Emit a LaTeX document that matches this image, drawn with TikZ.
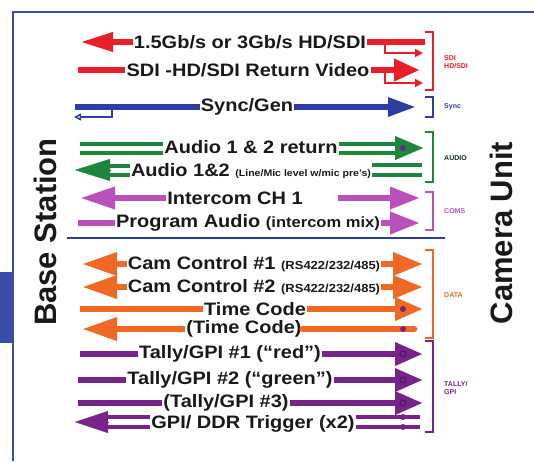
\documentclass[tikz,border=0pt]{standalone}
\usepackage{fontspec}
\setmainfont{Liberation Sans}
\newfontfamily\widefont{Liberation Sans}[FakeStretch=1.11]
\usetikzlibrary{arrows.meta}
\definecolor{sdired}{RGB}{232,30,40}
\definecolor{syncblue}{RGB}{45,62,160}
\definecolor{audiogreen}{RGB}{28,135,60}
\definecolor{comspink}{RGB}{186,80,186}
\definecolor{dataorange}{RGB}{240,104,38}
\definecolor{tallypurple}{RGB}{118,36,138}
\definecolor{frameblue}{RGB}{58,78,168}
\definecolor{ink}{RGB}{25,25,25}
\newcommand\sublbl[2][11.7]{{\fontsize{#1}{#1}\selectfont #2}}

\begin{document}
\begin{tikzpicture}[x=1pt,y=-1pt,
    lbl/.style={text=ink,inner sep=1pt,font=\widefont\bfseries\fontsize{18}{18}\selectfont},
    side/.style={text=ink,rotate=90,font=\bfseries\fontsize{31}{31}\selectfont},
    grp/.style={anchor=west,align=left,inner sep=0pt,font=\bfseries\fontsize{7}{8.5}\selectfont},
    bar/.style={line width=6.5pt},
    twin/.style={line width=4pt,double=white,double distance=#1},
    twin/.default=5pt,
    thin/.style={line width=1.8pt},
    brk/.style={line width=1.8pt}]
\useasboundingbox (0,0) rectangle (534,461);
% frame
\fill[frameblue] (0,272) rectangle (12,343);
\draw[frameblue,line width=2.5pt] (13,461) -- (13,12) -- (534,12);
\node[side] (base) at (45,232) {Base Station};
\node[side] (cam) at (501,233) {Camera Unit};

% SDI
\node[lbl] (r1) at (250,42) {1.5Gb/s or 3Gb/s HD/SDI};
\coordinate (r1l) at (80,42);
\coordinate (r1r) at (425,42);
\coordinate (r1k) at (385,42);
\coordinate (r1t) at (423,53);
\draw[sdired,thin,-{Triangle[length=8pt,width=8pt]}] (r1k) |- (r1t);
\draw[sdired,bar,{Triangle[length=33pt,width=18pt]}-] (r1l) -- (r1.west);
\draw[sdired,bar] (r1.east) -- (r1r);
\node[lbl] (r2) at (248,70) {SDI -HD/SDI Return Video};
\coordinate (r2l) at (78,70);
\coordinate (r2r) at (420,70);
\coordinate (r2k) at (385,70);
\coordinate (r2t) at (423,83);
\draw[sdired,thin,-{Triangle[length=8pt,width=8pt]}] (r2k) |- (r2t);
\draw[sdired,bar] (r2l) -- (r2.west);
\draw[sdired,bar,-{Triangle[length=26pt,width=21pt]}] (r2.east) -- (r2r);

% Sync
\node[lbl] (r3) at (247,107) {Sync/Gen};
\coordinate (r3l) at (75,107);
\coordinate (r3r) at (416,107);
\coordinate (r3k) at (112,107);
\coordinate (r3t) at (74,117);
\draw[syncblue,line width=6pt] (r3l) -- (r3.west);
\draw[syncblue,line width=6pt,-{Triangle[length=28pt,width=18pt]}] (r3.east) -- (r3r);
\draw[syncblue,line width=1.5pt,-{Triangle[open,length=7pt,width=7pt]}] (r3k) |- (r3t);

% Audio
\node[lbl] (r4) at (251,147) {Audio 1 \& 2 return};
\coordinate (r4l) at (80,148);
\coordinate (r4m) at (400,148);
\coordinate (r4h) at (395,148);
\coordinate (r4r) at (423,148);
\draw[audiogreen,twin] (r4l) -- (r4.west |- r4l);
\draw[audiogreen,twin] (r4.east |- r4m) -- (r4m);
\draw[audiogreen,line width=0.1pt,-{Triangle[length=28pt,width=24pt]}] (r4h) -- (r4r);
\fill[tallypurple] (403,148) circle (3pt);
\node[lbl] (r5) at (251,171) {Audio 1\&2 \sublbl[9.5]{(Line/Mic level w/mic pre’s)}};
\coordinate (r5l) at (75,170);
\coordinate (r5k) at (110,170);
\coordinate (r5r) at (422,170);
\draw[audiogreen,twin] (r5k) -- (r5.west |- r5k);
\draw[audiogreen,line width=0.1pt,{Triangle[length=35pt,width=22pt]}-] (r5l) -- (r5k);
\draw[audiogreen,twin=6pt] (r5.east |- r5r) -- (r5r);

% Coms
\node[lbl] (r6) at (235,198) {Intercom CH 1};
\coordinate (r6l) at (80,198);
\coordinate (r6a) at (338,198);
\coordinate (r6r) at (420,198);
\draw[comspink,bar,{Triangle[length=35pt,width=21pt]}-] (r6l) -- (r6.west);
\draw[comspink,bar,-{Triangle[length=30pt,width=21pt]}] (r6a) -- (r6r);
\node[lbl] (r7) at (248,223) {Program Audio \sublbl[14.9]{(intercom mix)}};
\coordinate (r7l) at (78,223);
\coordinate (r7r) at (420,223);
\draw[comspink,bar] (r7l) -- (r7.west);
\draw[comspink,bar,-{Triangle[length=30pt,width=21pt]}] (r7.east) -- (r7r);
\coordinate (divl) at (67,238);
\coordinate (divr) at (445,238);
\draw[syncblue,line width=1.5pt] (divl) -- (divr);

% Data
\node[lbl] (r8) at (254,264) {Cam Control \#1 \sublbl{(RS422/232/485)}};
\coordinate (r8l) at (82,264);
\coordinate (r8r) at (423,264);
\draw[dataorange,bar,{Triangle[length=35pt,width=22pt]}-] (r8l) -- (r8.west);
\draw[dataorange,bar,-{Triangle[length=30pt,width=22pt]}] (r8.east) -- (r8r);
\node[lbl] (r9) at (254,287) {Cam Control \#2 \sublbl{(RS422/232/485)}};
\coordinate (r9l) at (82,287);
\coordinate (r9r) at (423,287);
\draw[dataorange,bar,{Triangle[length=35pt,width=22pt]}-] (r9l) -- (r9.west);
\draw[dataorange,bar,-{Triangle[length=30pt,width=22pt]}] (r9.east) -- (r9r);
\node[lbl] (r10) at (255,309) {Time Code};
\coordinate (r10l) at (80,309);
\coordinate (r10r) at (423,309);
\draw[dataorange,bar] (r10l) -- (r10.west);
\draw[dataorange,bar,-{Triangle[length=28pt,width=22pt]}] (r10.east) -- (r10r);
\fill[tallypurple] (403,309) circle (3pt);
\node[lbl] (r11) at (244,329) {(Time Code)};
\coordinate (r11l) at (82,329);
\coordinate (r11r) at (414,329);
\draw[dataorange,bar,{Triangle[length=35pt,width=22pt]}-] (r11l) -- (r11.west);
\draw[dataorange,bar,line cap=round] (r11.east) -- (r11r);
\fill[tallypurple] (403,329) circle (3pt);

% Tally
\node[lbl] (r12) at (230,354) {Tally/GPI \#1 (“red”)};
\coordinate (r12l) at (80,354);
\coordinate (r12r) at (423,354);
\draw[tallypurple,bar] (r12l) -- (r12.west);
\draw[tallypurple,bar,-{Triangle[length=28pt,width=22pt]}] (r12.east) -- (r12r);
\draw[tallypurple!60!black,line width=0.8pt] (403,354) circle (3pt);
\node[lbl] (r13) at (230,380) {Tally/GPI \#2 (“green”)};
\coordinate (r13l) at (78,380);
\coordinate (r13r) at (423,380);
\draw[tallypurple,bar] (r13l) -- (r13.west);
\draw[tallypurple,bar,-{Triangle[length=28pt,width=22pt]}] (r13.east) -- (r13r);
\draw[tallypurple!60!black,line width=0.8pt] (403,380) circle (3pt);
\node[lbl] (r14) at (226,403) {(Tally/GPI \#3)};
\coordinate (r14l) at (78,403);
\coordinate (r14r) at (423,403);
\draw[tallypurple,bar] (r14l) -- (r14.west);
\draw[tallypurple,bar,-{Triangle[length=28pt,width=22pt]}] (r14.east) -- (r14r);
\draw[tallypurple!60!black,line width=0.8pt] (403,403) circle (3pt);
\node[lbl] (r15) at (253,424) {GPI/ DDR Trigger (x2)};
\coordinate (r15l) at (75,422);
\coordinate (r15k) at (108,422);
\coordinate (r15r) at (420,422);
\draw[tallypurple,twin=6pt] (r15k) -- (r15.west |- r15k);
\draw[tallypurple,line width=0.1pt,{Triangle[length=33pt,width=22pt]}-] (r15l) -- (r15k);
\draw[tallypurple,twin=6pt] (r15.east |- r15r) -- (r15r);
\fill[tallypurple] (403,417) circle (3pt);
\fill[tallypurple] (403,427) circle (3pt);

% groups
\draw[brk,sdired] (425,32) -- (433,32) -- (433,90) -- (425,90);
\node[grp,text=sdired] (gsdi) at (444,62) {SDI\\HD/SDI};
\draw[brk,syncblue] (425,97) -- (433,97) -- (433,117) -- (425,117);
\node[grp,text=syncblue] (gsync) at (444,107) {Sync};
\draw[brk,audiogreen] (425,132) -- (433,132) -- (433,182) -- (425,182);
\node[grp,text=audiogreen!35!black] (gaudio) at (444,158) {AUDIO};
\draw[brk,comspink] (425,192) -- (433,192) -- (433,230) -- (425,230);
\node[grp,text=comspink] (gcoms) at (444,211) {COMS};
\draw[brk,dataorange] (425,250) -- (433,250) -- (433,338) -- (425,338);
\node[grp,text=dataorange] (gdata) at (444,295) {DATA};
\draw[brk,tallypurple] (425,341) -- (433,341) -- (433,432) -- (425,432);
\node[grp,text=tallypurple] (gtally) at (444,388) {TALLY/\\GPI};
\end{tikzpicture}
\end{document}
